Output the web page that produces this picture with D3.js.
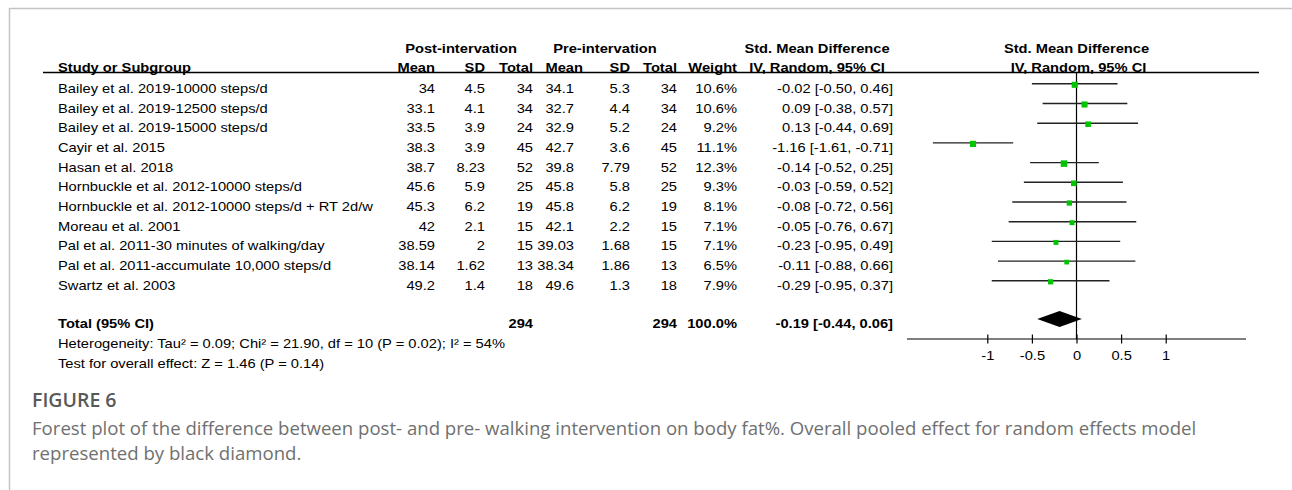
<!DOCTYPE html>
<html>
<head>
<meta charset="utf-8">
<script src="https://cdn.jsdelivr.net/npm/d3@7"></script>
<style>
  body { margin: 0; background: #fff; }
  svg text { font-family: "Liberation Sans", Arial, sans-serif; font-size: 13px; fill: #000; }
  .cap { font-family: "Open Sans", "Noto Sans", sans-serif; fill: #707070; }
</style>
</head>
<body>
<svg id="chart" width="1292" height="490"></svg>
<script>
// Study rows: body fat % after and before a walking intervention
const studies = [
  "Bailey et al. 2019-10000 steps/d",
  "Bailey et al. 2019-12500 steps/d",
  "Bailey et al. 2019-15000 steps/d",
  "Cayir et al. 2015",
  "Hasan et al. 2018",
  "Hornbuckle et al. 2012-10000 steps/d",
  "Hornbuckle et al. 2012-10000 steps/d + RT 2d/w",
  "Moreau et al. 2001",
  "Pal et al. 2011-30 minutes of walking/day",
  "Pal et al. 2011-accumulate 10,000 steps/d",
  "Swartz et al. 2003"
];
const postMean = [34, 33.1, 33.5, 38.3, 38.7, 45.6, 45.3, 42, 38.59, 38.14, 49.2];
const postSD   = [4.5, 4.1, 3.9, 3.9, 8.23, 5.9, 6.2, 2.1, 2, 1.62, 1.4];
const postN    = [34, 34, 24, 45, 52, 25, 19, 15, 15, 13, 18];
const preMean  = [34.1, 32.7, 32.9, 42.7, 39.8, 45.8, 45.8, 42.1, 39.03, 38.34, 49.6];
const preSD    = [5.3, 4.4, 5.2, 3.6, 7.79, 5.8, 6.2, 2.2, 1.68, 1.86, 1.3];
const preN     = [34, 34, 24, 45, 52, 25, 19, 15, 15, 13, 18];
const weight   = [10.6, 10.6, 9.2, 11.1, 12.3, 9.3, 8.1, 7.1, 7.1, 6.5, 7.9];
const smd      = [-0.02, 0.09, 0.13, -1.16, -0.14, -0.03, -0.08, -0.05, -0.23, -0.11, -0.29];
const ciLow    = [-0.50, -0.38, -0.44, -1.61, -0.52, -0.59, -0.72, -0.76, -0.95, -0.88, -0.95];
const ciHigh   = [0.46, 0.57, 0.69, -0.71, 0.25, 0.52, 0.56, 0.67, 0.49, 0.66, 0.37];

// Pooled random-effects result
const totalPostN = 294, totalPreN = 294, totalWeight = 100.0;
const pooled = { est: -0.19, lo: -0.44, hi: 0.06 };

const axisTicks = [-1, -0.5, 0, 0.5, 1];
const footnotes = [
  "Heterogeneity: Tau\u00b2 = 0.09; Chi\u00b2 = 21.90, df = 10 (P = 0.02); I\u00b2 = 54%",
  "Test for overall effect: Z = 1.46 (P = 0.14)"
];
const figLabel = "FIGURE 6";
const caption = [
  "Forest plot of the difference between post- and pre- walking intervention on body fat%. Overall pooled effect for random effects model",
  "represented by black diamond."
];

const svg = d3.select("#chart");
const SX = 1.13; // horizontal stretch of the table type

// outer frame
svg.append("line").attr("x1", 9).attr("x2", 1292).attr("y1", 8.5).attr("y2", 8.5)
  .attr("stroke", "#c4c4c4").attr("stroke-width", 1.5);
svg.append("line").attr("x1", 9.5).attr("x2", 9.5).attr("y1", 8).attr("y2", 490)
  .attr("stroke", "#c4c4c4").attr("stroke-width", 1.5);

function label(x, y, s, anchor = "start", bold = false) {
  return svg.append("text")
    .attr("transform", `translate(${x},${y}) scale(${SX},1)`)
    .attr("text-anchor", anchor)
    .attr("dy", "0.35em")
    .style("font-weight", bold ? "bold" : null)
    .text(s);
}

// row positions
const rowY = d3.scalePoint().domain(studies).range([88.3, 285.3]);
const totalY = 323.5;

// effect-size scale
const x = d3.scaleLinear().domain([-1.9, 1.9]).range([907, 1246]);

// column anchors
const col = { study: 58, postMean: 435, postSD: 485, postN: 533, preMean: 574, preSD: 630, preN: 677, weight: 737, ci: 893, ciHead: 817 };

// headers
label(461, 48, "Post-intervation", "middle", true);
label(605, 48, "Pre-intervation", "middle", true);
label(col.ciHead, 48, "Std. Mean Difference", "middle", true);
label(x(0), 48, "Std. Mean Difference", "middle", true);

const hy = 67.5;
label(col.study, hy, "Study or Subgroup", "start", true);
label(col.postMean, hy, "Mean", "end", true);
label(col.postSD, hy, "SD", "end", true);
label(col.postN, hy, "Total", "end", true);
label(583, hy, "Mean", "end", true);
label(col.preSD, hy, "SD", "end", true);
label(col.preN, hy, "Total", "end", true);
label(col.weight, hy, "Weight", "end", true);
label(col.ciHead, hy, "IV, Random, 95% CI", "middle", true);
label(x(0) + 2, hy, "IV, Random, 95% CI", "middle", true);

svg.append("line").attr("x1", 43).attr("x2", 1259).attr("y1", 72.5).attr("y2", 72.5)
  .attr("stroke", "#000").attr("stroke-width", 1.3);

// table body
const f2 = v => v.toFixed(2);
studies.forEach((s, i) => {
  const y = rowY(s);
  label(col.study, y, s);
  label(col.postMean, y, String(postMean[i]), "end");
  label(col.postSD, y, String(postSD[i]), "end");
  label(col.postN, y, String(postN[i]), "end");
  label(col.preMean, y, String(preMean[i]), "end");
  label(col.preSD, y, String(preSD[i]), "end");
  label(col.preN, y, String(preN[i]), "end");
  label(col.weight, y, weight[i].toFixed(1) + "%", "end");
  label(col.ci, y, `${f2(smd[i])} [${f2(ciLow[i])}, ${f2(ciHigh[i])}]`, "end");
});

label(col.study, totalY, "Total (95% CI)", "start", true);
label(col.postN, totalY, String(totalPostN), "end", true);
label(col.preN, totalY, String(totalPreN), "end", true);
label(col.weight, totalY, totalWeight.toFixed(1) + "%", "end", true);
label(col.ci, totalY, `${f2(pooled.est)} [${f2(pooled.lo)}, ${f2(pooled.hi)}]`, "end", true);

footnotes.forEach((t, i) => label(col.study, 343 + 20 * i, t));

// forest plot
const axisY = 339;
svg.append("line").attr("x1", x(0)).attr("x2", x(0)).attr("y1", 72.5).attr("y2", axisY)
  .attr("stroke", "#000").attr("stroke-width", 1.2);

const size = d3.scaleSqrt().domain([0, d3.max(weight)]).range([0, 6.5]);
const plot = svg.append("g");
studies.forEach((s, i) => {
  const y = rowY(s) - 4.5;
  plot.append("line").attr("x1", x(ciLow[i])).attr("x2", x(ciHigh[i]))
    .attr("y1", y).attr("y2", y).attr("stroke", "#222").attr("stroke-width", 1.4);
  const w = size(weight[i]);
  plot.append("rect").attr("x", x(smd[i]) - w / 2).attr("y", y + 1 - w / 2)
    .attr("width", w).attr("height", w).attr("fill", "#00c400");
});

const dy = 319, dh = 8;
plot.append("path")
  .attr("d", d3.line()([[x(pooled.lo), dy], [x(pooled.est), dy - dh], [x(pooled.hi), dy], [x(pooled.est), dy + dh]]) + "Z")
  .attr("fill", "#000");

// axis
svg.append("line").attr("x1", x.range()[0]).attr("x2", x.range()[1])
  .attr("y1", axisY).attr("y2", axisY).attr("stroke", "#000").attr("stroke-width", 1.2);
const ax = svg.append("g").attr("transform", `translate(0,${axisY - 4.5})`)
  .call(d3.axisBottom(x).tickValues(axisTicks).tickSizeInner(9).tickSizeOuter(0).tickPadding(7)
    .tickFormat(d => String(d)));
ax.select(".domain").remove();
ax.selectAll(".tick line").attr("stroke", "#000").attr("stroke-width", 1.2);
ax.selectAll(".tick text").attr("font-size", 13).attr("font-family", "Liberation Sans, Arial, sans-serif")
  .attr("fill", "#000").attr("transform", `scale(${SX},1)`);

// caption
svg.append("text").attr("class", "cap").attr("x", 32).attr("y", 407)
  .style("font-size", "19.5px").style("font-weight", 600).style("fill", "#595959").text(figLabel);
caption.forEach((t, i) => svg.append("text").attr("class", "cap").attr("x", 32).attr("y", 435 + 25 * i)
  .style("font-size", "18.6px").text(t));
</script>
</body>
</html>
